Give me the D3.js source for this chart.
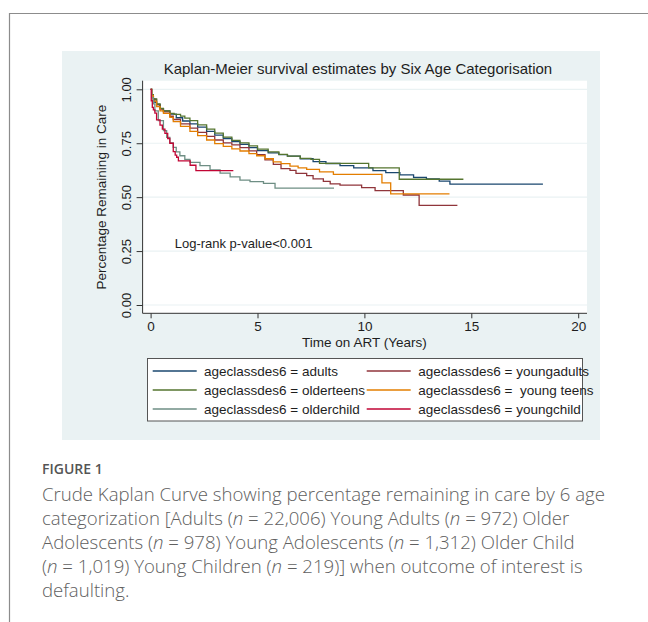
<!DOCTYPE html>
<html lang="en">
<head>
    <meta charset="UTF-8">
    <title>Kaplan-Meier by age category</title>
    <script src="https://cdn.jsdelivr.net/npm/d3@7"></script>
    <style>
        body { margin: 0; background: #ffffff; }
        svg text { font-family: "Liberation Sans", Arial, sans-serif; fill: #1e1e1e; }
        .caption text { font-family: "Open Sans", Lato, sans-serif; fill: #606060; }
    </style>
</head>
<body>
    <div id="canvas"></div>

    <script>
        // step points: [years, proportion remaining]
        const adults = [[0,1],[0.05,0.975],[0.13,0.955],[0.2,0.94],[0.28,0.93],[0.44,0.91],[0.6,0.9],[0.9,0.885],[1.2,0.868],[1.5,0.853],[1.84,0.84],[2.2,0.825],[2.62,0.805],[3.0,0.788],[3.4,0.772],[3.8,0.757],[4.18,0.745],[4.6,0.73],[5.0,0.716],[5.5,0.705],[6.0,0.697],[6.4,0.69],[7.0,0.678],[7.6,0.665],[8.2,0.656],[8.86,0.646],[9.5,0.636],[10.4,0.623],[11.0,0.614],[11.66,0.603],[12.3,0.592],[12.9,0.585],[13.5,0.574],[14.0,0.56],[18.35,0.56]];
        const youngadults = [[0,1],[0.05,0.975],[0.13,0.953],[0.28,0.928],[0.44,0.908],[0.6,0.895],[0.9,0.875],[1.06,0.86],[1.4,0.84],[1.84,0.82],[2.2,0.8],[2.62,0.782],[3.0,0.765],[3.4,0.752],[3.8,0.742],[4.18,0.73],[4.6,0.715],[4.96,0.697],[5.35,0.673],[5.74,0.652],[6.1,0.632],[6.52,0.624],[6.8,0.61],[7.3,0.6],[7.6,0.585],[8.08,0.573],[8.4,0.562],[8.86,0.556],[9.87,0.544],[10.5,0.53],[11.82,0.51],[12.56,0.462],[14.35,0.462]];
        const olderteens = [[0,1],[0.05,0.975],[0.13,0.955],[0.28,0.932],[0.44,0.912],[0.6,0.9],[0.9,0.888],[1.1,0.884],[1.4,0.876],[1.6,0.866],[1.84,0.855],[2.2,0.835],[2.62,0.815],[3.0,0.797],[3.4,0.778],[3.8,0.763],[4.18,0.752],[4.6,0.738],[5.0,0.723],[5.5,0.71],[6.0,0.698],[6.4,0.69],[7.0,0.68],[7.5,0.675],[7.9,0.657],[10.2,0.636],[11.63,0.583],[14.63,0.583]];
        const youngteens = [[0,1],[0.05,0.97],[0.13,0.945],[0.28,0.92],[0.44,0.9],[0.6,0.888],[0.9,0.87],[1.06,0.85],[1.4,0.828],[1.84,0.805],[2.2,0.785],[2.62,0.765],[3.0,0.748],[3.4,0.735],[3.8,0.724],[4.18,0.714],[4.6,0.702],[4.96,0.692],[5.35,0.678],[5.74,0.664],[6.1,0.655],[6.52,0.644],[6.9,0.636],[7.3,0.629],[7.9,0.617],[8.55,0.606],[10.82,0.566],[11.23,0.515],[13.98,0.515]];
        const olderchild = [[0,1],[0.05,0.96],[0.13,0.932],[0.2,0.9],[0.36,0.855],[0.6,0.808],[0.75,0.777],[0.9,0.752],[1.06,0.731],[1.2,0.71],[1.37,0.692],[1.6,0.675],[1.84,0.661],[2.31,0.646],[2.78,0.626],[3.25,0.611],[3.72,0.594],[4.18,0.579],[4.65,0.572],[5.28,0.564],[5.82,0.542],[8.58,0.542]];
        const youngchild = [[0,1],[0.03,0.947],[0.08,0.916],[0.13,0.905],[0.2,0.89],[0.28,0.858],[0.44,0.834],[0.55,0.815],[0.67,0.796],[0.8,0.772],[0.9,0.75],[1.06,0.711],[1.15,0.695],[1.22,0.685],[1.3,0.668],[1.85,0.648],[2.12,0.623],[3.87,0.623]];

        const seriesNames = ['adults', 'youngadults', 'olderteens', ' young teens', 'olderchild', 'youngchild'];
        const seriesData = [adults, youngadults, olderteens, youngteens, olderchild, youngchild];
        const seriesColors = ['#1a476f', '#90353b', '#55752f', '#e37e00', '#6e8e84', '#c10534'];

        const xTicks = [0, 5, 10, 15, 20];
        const yTicks = [0, 0.25, 0.5, 0.75, 1];

        const captionLines = [
            ['Crude Kaplan Curve showing percentage remaining in care by 6 age'],
            ['categorization [Adults (', 'n', ' = 22,006) Young Adults (', 'n', ' = 972) Older'],
            ['Adolescents (', 'n', ' = 978) Young Adolescents (', 'n', ' = 1,312) Older Child'],
            ['(', 'n', ' = 1,019) Young Children (', 'n', ' = 219)] when outcome of interest is'],
            ['defaulting.']
        ];
    </script>

    <script>
        const width = 648;
        const height = 622;

        const svg = d3.select('#canvas')
            .append('svg')
            .attr('width', width)
            .attr('height', height);

        // page frame
        svg.append('path')
            .attr('d', 'M9.5,622 V13.5 H648')
            .attr('fill', 'none')
            .attr('stroke', '#8c8c8c')
            .attr('stroke-width', 1.2);

        // graph region
        svg.append('rect')
            .attr('x', 62).attr('y', 51)
            .attr('width', 538).attr('height', 389)
            .attr('fill', '#eaf2f3');

        const plot = { left: 142.6, right: 587, top: 80.7, bottom: 313.3 };

        svg.append('rect')
            .attr('x', plot.left).attr('y', plot.top)
            .attr('width', plot.right - plot.left)
            .attr('height', plot.bottom - plot.top)
            .attr('fill', '#ffffff');

        const x = d3.scaleLinear().domain([0, 20]).range([150.6, 578.2]);
        const y = d3.scaleLinear().domain([0, 1]).range([305, 89.3]);

        // grid
        svg.append('g')
            .selectAll('line')
            .data(yTicks)
            .enter()
            .append('line')
            .attr('x1', plot.left).attr('x2', plot.right)
            .attr('y1', d => y(d)).attr('y2', d => y(d))
            .attr('stroke', '#eaf2f3')
            .attr('stroke-width', 1.2);

        // curves
        const line = d3.line()
            .x(d => x(d[0]))
            .y(d => y(d[1]))
            .curve(d3.curveStepAfter);

        svg.append('g')
            .selectAll('path')
            .data(seriesData)
            .enter()
            .append('path')
            .attr('d', line)
            .attr('fill', 'none')
            .attr('stroke', (d, i) => seriesColors[i])
            .attr('stroke-width', 1.3);

        // axes
        const yAxis = svg.append('g')
            .attr('transform', `translate(${plot.left},0)`)
            .call(d3.axisLeft(y).tickValues(yTicks).tickFormat(d3.format('.2f')).tickSize(6));
        yAxis.select('.domain').remove();
        yAxis.selectAll('text')
            .attr('x', 0)
            .attr('dy', '0.35em')
            .attr('text-anchor', 'middle')
            .attr('transform', 'translate(-16,0) rotate(-90)')
            .style('font-size', '13px');

        const xAxis = svg.append('g')
            .attr('transform', `translate(0,${plot.bottom})`)
            .call(d3.axisBottom(x).tickValues(xTicks).tickSize(5).tickPadding(3));
        xAxis.select('.domain').remove();
        xAxis.selectAll('text').style('font-size', '13.5px');

        svg.selectAll('.tick line').attr('stroke', '#333');
        svg.selectAll('.tick text').attr('fill', '#1e1e1e').style('font-family', '"Liberation Sans", Arial, sans-serif');

        svg.append('path')
            .attr('d', `M${plot.left},${plot.top} V${plot.bottom} H${plot.right}`)
            .attr('fill', 'none')
            .attr('stroke', '#333')
            .attr('stroke-width', 1);

        // titles
        svg.append('text')
            .attr('x', 357.9).attr('y', 73.5)
            .attr('text-anchor', 'middle')
            .style('font-size', '15px')
            .text('Kaplan-Meier survival estimates by Six Age Categorisation');

        svg.append('text')
            .attr('x', x(10)).attr('y', 347)
            .attr('text-anchor', 'middle')
            .style('font-size', '13.5px')
            .text('Time on ART (Years)');

        svg.append('text')
            .attr('transform', `translate(101.7,${y(0.5)}) rotate(-90)`)
            .attr('dy', '0.35em')
            .attr('text-anchor', 'middle')
            .style('font-size', '13.5px')
            .text('Percentage Remaining in Care');

        svg.append('text')
            .attr('x', 174.7).attr('y', 247.5)
            .style('font-size', '13px')
            .text('Log-rank p-value<0.001');

        // legend
        const legend = svg.append('g');
        legend.append('rect')
            .attr('x', 147.5).attr('y', 358.5)
            .attr('width', 435).attr('height', 62.5)
            .attr('fill', '#ffffff')
            .attr('stroke', '#555')
            .attr('stroke-width', 1);

        const legendItems = legend.selectAll('g.item')
            .data(seriesNames)
            .enter()
            .append('g')
            .attr('class', 'item')
            .attr('transform', (d, i) => `translate(${i % 2 === 0 ? 152.7 : 366.7},${371 + Math.floor(i / 2) * 19})`);

        legendItems.append('line')
            .attr('x1', 0).attr('x2', 44)
            .attr('stroke', (d, i) => seriesColors[i])
            .attr('stroke-width', 1.3);

        legendItems.append('text')
            .attr('x', (d, i) => i % 2 === 0 ? 51.3 : 51.6)
            .attr('dy', '0.35em')
            .style('font-size', '13.5px')
            .style('white-space', 'pre')
            .text(d => `ageclassdes6 = ${d}`);

        // caption
        const caption = svg.append('g').attr('class', 'caption');
        caption.append('text')
            .attr('x', 42).attr('y', 474)
            .style('font-size', '14px')
            .style('font-weight', 600)
            .style('fill', '#555')
            .text('FIGURE 1');

        captionLines.forEach((parts, i) => {
            const t = caption.append('text')
                .attr('x', 42).attr('y', 501 + i * 24)
                .style('font-size', '18.6px')
                .style('font-weight', 300)
                .style('white-space', 'pre');
            parts.forEach(p => {
                t.append('tspan')
                    .style('font-style', p === 'n' ? 'italic' : 'normal')
                    .text(p);
            });
        });
    </script>
</body>
</html>
